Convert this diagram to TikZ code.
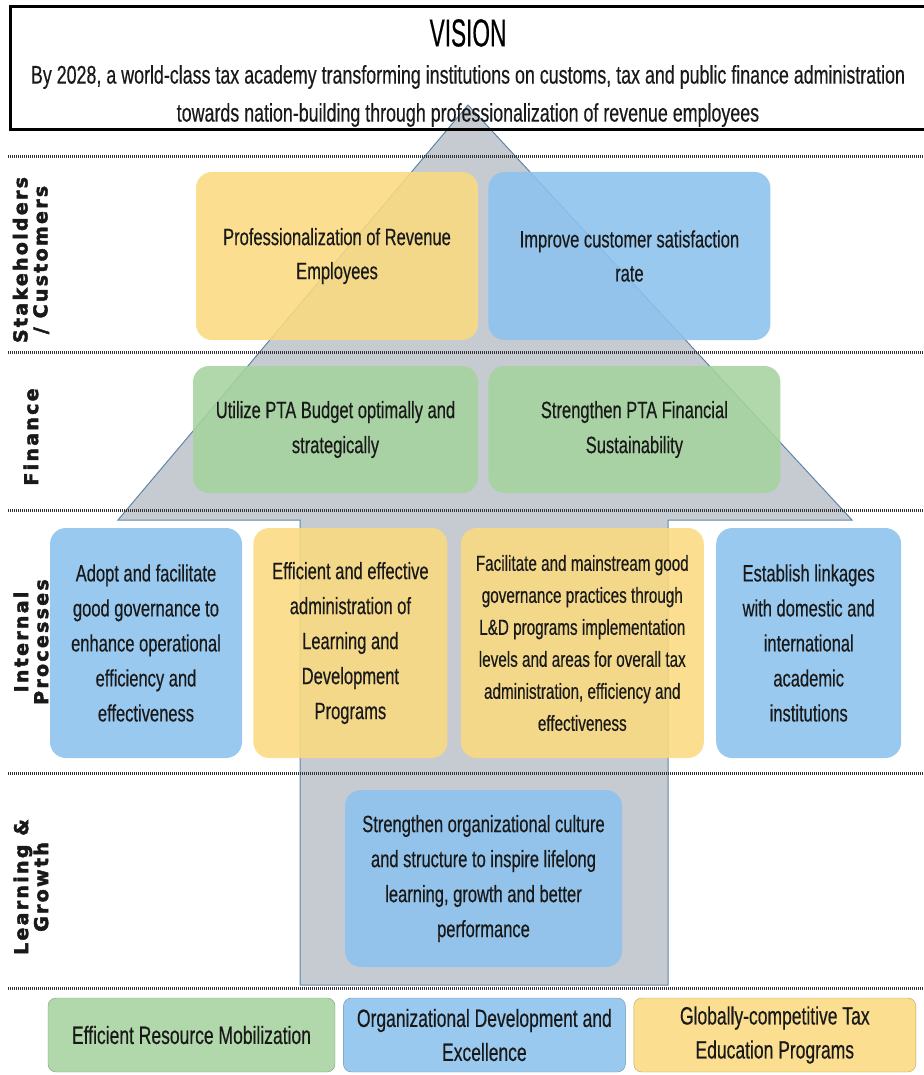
\documentclass[tikz,border=0pt]{standalone}
\usepackage{fontspec}
\setmainfont{Liberation Sans}
\newfontfamily\narrowfont[FakeStretch=0.7,FakeBold=0.4]{Liberation Sans}
\newfontfamily\visionfont[FakeStretch=0.58,FakeBold=0.4]{Liberation Sans}
\newfontfamily\rowfont[LetterSpace=12,FakeBold=2.5]{DejaVu Sans Bold}
\usetikzlibrary{positioning}

\definecolor{goalyellow}{RGB}{250,218,128}
\definecolor{goalblue}{RGB}{140,194,238}
\definecolor{goalgreen}{RGB}{166,211,158}
\definecolor{arrowgray}{RGB}{198,203,209}
\definecolor{arrowedge}{RGB}{95,134,170}

\tikzset{
goalbox/.style={
  rounded corners=16pt,
  inner sep=0pt,
  align=center,
  text=black!90,
  font=\narrowfont\fontsize{23.6}{35}\selectfont,
  fill opacity=0.88,
  text opacity=1,
  }
}
\tikzset{
rowlabel/.style={
  rotate=90,
  align=center,
  text=black!90,
  font=\rowfont\fontsize{19}{20}\selectfont,
  }
}
\tikzset{
rowline/.style={
  line width=3pt,
  dash pattern=on 1.2pt off 0.8pt,
  color=black!80,
  }
}

\begin{document}
\begin{tikzpicture}[x=1pt,y=-1pt]
    \useasboundingbox (0,0) rectangle (923,1075);

    % arrow part
    \path [draw=arrowedge, line width=1pt, fill=arrowgray] (468,105) -- (852,520) -- (668,520) -- (668,985) -- (300,985) -- (300,520) -- (118,520) -- cycle;

    % vision part
    \draw[line width=3pt] (10,7) rectangle (935,130);
    \node[font=\visionfont\fontsize{39}{39}\selectfont] (vision) at (468,33) {VISION};
    \node[font=\narrowfont\fontsize{25.5}{38}\selectfont, align=center, text=black!90] (vistext) at (468,96) {By 2028, a world-class tax academy transforming institutions on customs, tax and public finance administration\\towards nation-building through professionalization of revenue employees};

    % row lines
    \foreach \y in {157,352,510,773,988}
        \draw[rowline] (8,\y) -- (923,\y);

    % row labels
    \node[rowlabel] (lblstake) at (31,260) {Stakeholders\\/ Customers};
    \node[rowlabel] (lblfin) at (31,437) {Finance};
    \node[rowlabel] (lblint) at (31,642) {Internal\\Processes};
    \node[rowlabel] (lbllearn) at (31,887) {Learning \&\\Growth};

    % stakeholder part
    \node[goalbox, fill=goalyellow, minimum width=282pt, minimum height=168pt, font=\narrowfont\fontsize{23.6}{34}\selectfont] (prof) at (337,256) {Professionalization of Revenue\\Employees};
    \node[goalbox, fill=goalblue, minimum width=282pt, minimum height=168pt, font=\narrowfont\fontsize{23.6}{34}\selectfont, right=10pt of prof] (cust) {Improve customer satisfaction\\rate};

    % finance part
    \node[goalbox, fill=goalgreen, minimum width=285pt, minimum height=127pt] (budget) at (335.5,429.5) {Utilize PTA Budget optimally and\\strategically};
    \node[goalbox, fill=goalgreen, minimum width=292pt, minimum height=127pt, right=10pt of budget] (sustain) {Strengthen PTA Financial\\Sustainability};

    % internal part
    \node[goalbox, fill=goalblue, minimum width=192pt, minimum height=230pt] (govern) at (146,643) {Adopt and facilitate\\good governance to\\enhance operational\\efficiency and\\effectiveness};
    \node[goalbox, fill=goalyellow, minimum width=194pt, minimum height=230pt, right=11pt of govern] (admin) {Efficient and effective\\administration of\\Learning and\\Development\\Programs};
    \node[goalbox, fill=goalyellow, minimum width=243pt, minimum height=230pt, right=13pt of admin, font=\narrowfont\fontsize{21.8}{32}\selectfont] (mainstream) {Facilitate and mainstream good\\governance practices through\\L\&D programs implementation\\levels and areas for overall tax\\administration, efficiency and\\effectiveness};
    \node[goalbox, fill=goalblue, minimum width=185pt, minimum height=230pt, right=12pt of mainstream] (linkage) {Establish linkages\\with domestic and\\international\\academic\\institutions};

    % learning part
    \node[goalbox, fill=goalblue, minimum width=277pt, minimum height=177pt] (culture) at (483.5,878.5) {Strengthen organizational culture\\and structure to inspire lifelong\\learning, growth and better\\performance};

    % bottom part
    \node[goalbox, rounded corners=8pt, draw=goalgreen!75!black, fill=goalgreen, minimum width=287pt, minimum height=74pt, font=\narrowfont\fontsize{25}{34}\selectfont] (resource) at (191.5,1035) {Efficient Resource Mobilization};
    \node[goalbox, rounded corners=8pt, draw=goalblue!75!black, fill=goalblue, minimum width=282pt, minimum height=74pt, font=\narrowfont\fontsize{25}{34}\selectfont, right=8pt of resource] (orgdev) {Organizational Development and\\Excellence};
    \node[goalbox, rounded corners=8pt, draw=goalyellow!75!black, fill=goalyellow, minimum width=282pt, minimum height=74pt, font=\narrowfont\fontsize{25}{34}\selectfont, right=8pt of orgdev] (educ) {Globally-competitive Tax\\Education Programs};
  \end{tikzpicture}
\end{document}
